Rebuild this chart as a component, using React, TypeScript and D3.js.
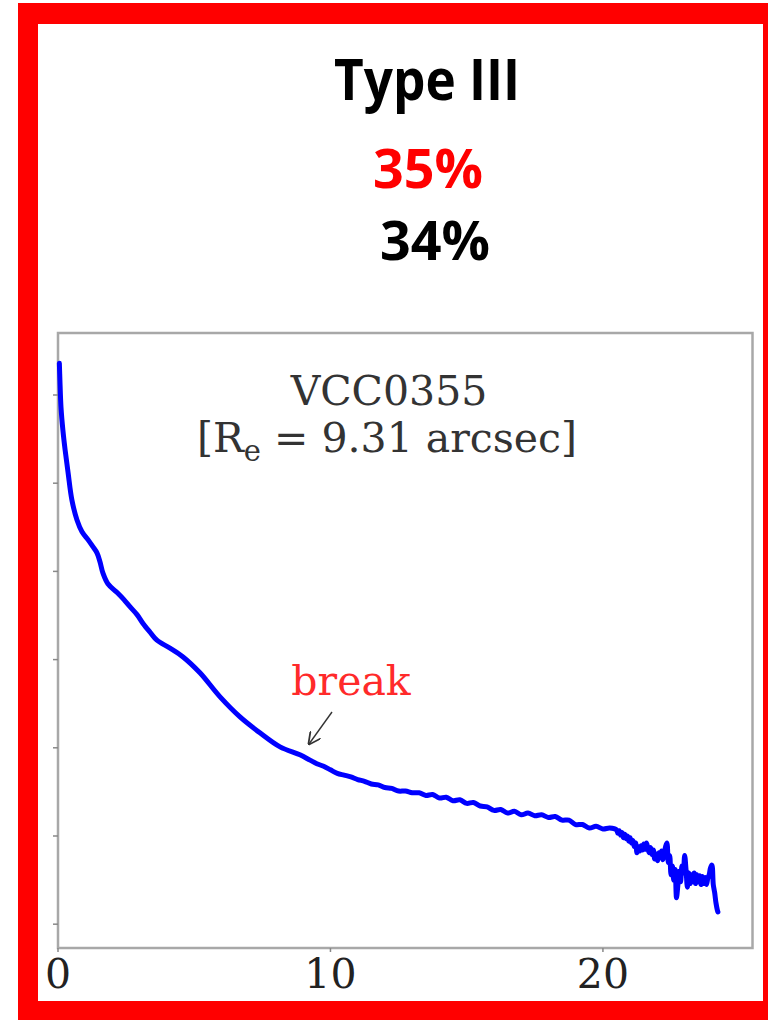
import React from "react";
import * as d3 from "d3";

// Surface-brightness profile of VCC0355 (radius in arcsec, mu in arbitrary mag units)
const radiusInner: number[] = [
  0.05, 0.07, 0.11, 0.18, 0.26, 0.37, 0.51, 0.70, 0.88, 1.10, 1.28, 1.43, 1.54, 1.65, 1.83,
  2.17, 2.42, 2.64, 2.90, 3.12, 3.38, 3.63, 4.11, 4.59, 5.21, 5.94, 6.68, 7.41, 8.15, 8.88,
  9.25, 9.50, 9.75, 10.00, 10.25, 10.50, 10.75, 11.00, 11.25, 11.50, 11.75, 12.00,
  12.25, 12.50, 12.75, 13.00, 13.25, 13.50, 13.75, 14.00, 14.25, 14.50, 14.75, 15.00, 15.25,
  15.50, 15.75, 16.00, 16.25, 16.50, 16.75, 17.00, 17.25, 17.50, 17.75, 18.00, 18.25, 18.50,
  18.75, 19.00, 19.25, 19.50, 19.75, 20.00, 20.25,
];
const muInner: number[] = [
  17.64, 17.83, 18.14, 18.40, 18.62, 18.88, 19.19, 19.42, 19.55, 19.64, 19.72, 19.79, 19.89, 20.02, 20.14,
  20.24, 20.32, 20.40, 20.49, 20.59, 20.69, 20.78, 20.87, 20.97, 21.15, 21.42, 21.65, 21.83, 21.99, 22.08,
  22.14, 22.18, 22.21, 22.25, 22.29, 22.31, 22.33, 22.36, 22.38, 22.41, 22.42, 22.45,
  22.46, 22.49, 22.49, 22.51, 22.51, 22.54, 22.53, 22.57, 22.56, 22.60, 22.59, 22.63, 22.62,
  22.66, 22.67, 22.71, 22.70, 22.74, 22.72, 22.76, 22.74, 22.77, 22.76, 22.79, 22.78, 22.82,
  22.82, 22.87, 22.87, 22.91, 22.89, 22.92, 22.91,
];
const radiusOuter: number[] = [
  20.50, 20.55, 20.60, 20.65, 20.70, 20.75, 20.80, 20.85, 20.90, 20.95,
  21.00, 21.05, 21.10, 21.15, 21.20, 21.25, 21.30, 21.35, 21.40, 21.45,
  21.50, 21.55, 21.60, 21.65, 21.70, 21.75, 21.80, 21.85, 21.90, 21.95,
  22.00, 22.05, 22.10, 22.15, 22.20, 22.25, 22.30, 22.35, 22.40, 22.45,
  22.50, 22.55, 22.60, 22.65, 22.70, 22.75, 22.80, 22.85, 22.90, 22.95,
  23.00, 23.05, 23.10, 23.15, 23.20, 23.25, 23.30, 23.35, 23.40, 23.45,
  23.50, 23.55, 23.60, 23.65, 23.70, 23.75, 23.80, 23.85, 23.90, 23.95,
  24.00, 24.05, 24.10, 24.15, 24.20, 24.22,
];
const muOuter: number[] = [
  22.93, 22.97, 22.94, 22.99, 22.96, 23.02, 22.98, 23.03, 23.00, 23.06,
  23.02, 23.08, 23.05, 23.12, 23.08, 23.19, 23.12, 23.17, 23.11, 23.16,
  23.09, 23.15, 23.08, 23.14, 23.19, 23.13, 23.21, 23.16, 23.26, 23.20,
  23.28, 23.19, 23.24, 23.17, 23.27, 23.20, 23.12, 23.08, 23.30, 23.22,
  23.44, 23.34, 23.50, 23.38, 23.70, 23.56, 23.40, 23.52, 23.34, 23.42,
  23.22, 23.38, 23.58, 23.42, 23.54, 23.44, 23.52, 23.42, 23.54, 23.44,
  23.52, 23.45, 23.55, 23.46, 23.54, 23.47, 23.55, 23.48, 23.44, 23.36,
  23.33, 23.55, 23.64, 23.76, 23.84, 23.86,
];
const xTicks: number[] = [0, 10, 20];
const yTicks: number[] = [18, 19, 20, 21, 22, 23, 24];

const W = 768;
const H = 1020;
const plot = { left: 58, right: 752.5, top: 333, bottom: 948 };

export default function App() {
  const x = d3.scaleLinear().domain([0, 25.49]).range([plot.left, plot.right]);
  const y = d3.scaleLinear().domain([17.297, 24.27]).range([plot.top, plot.bottom]);
  const radius = radiusInner.concat(radiusOuter);
  const mu = muInner.concat(muOuter);
  const pts: [number, number][] = radius.map((r, i) => [r, mu[i]]);
  const line = d3
    .line<[number, number]>()
    .x((d) => x(d[0]))
    .y((d) => y(d[1]))
    .curve(d3.curveCatmullRom.alpha(0.5));

  const serif = "'DejaVu Serif', serif";
  const sans = "'Open Sans', 'Liberation Sans', sans-serif";

  return (
    <svg
      width={W}
      height={H}
      viewBox={`0 0 ${W} ${H}`}
      style={{ position: "absolute", left: 0, top: 0, background: "#fff" }}
    >
      <defs>
        <marker id="arr" viewBox="0 0 10 10" refX="9" refY="5" markerWidth="9" markerHeight="9" orient="auto">
          <path d="M0,0 L10,5 L0,10" fill="none" stroke="#333" strokeWidth={1.4} />
        </marker>
      </defs>
      <rect x={0} y={0} width={W} height={H} fill="#fff" />
      {/* red frame */}
      <rect x={18} y={3} width={W - 18} height={21} fill="#ff0000" />
      <rect x={18} y={3} width={20} height={H - 3} fill="#ff0000" />
      <rect x={763} y={3} width={5} height={H - 3} fill="#ff0000" />
      <rect x={18} y={1001} width={W - 18} height={19} fill="#ff0000" />

      {/* headings */}
      <text x={427} y={100} textAnchor="middle" fontFamily={sans} fontWeight={700} fontSize={58}
        textLength={186} lengthAdjust="spacingAndGlyphs" fill="#000">Type III</text>
      <text x={428} y={188} textAnchor="middle" fontFamily={sans} fontWeight={700} fontSize={53}
        textLength={110} lengthAdjust="spacingAndGlyphs" fill="#ff0000">35%</text>
      <text x={435} y={260} textAnchor="middle" fontFamily={sans} fontWeight={700} fontSize={53}
        textLength={110} lengthAdjust="spacingAndGlyphs" fill="#000">34%</text>

      {/* plot frame */}
      <rect x={plot.left} y={plot.top} width={plot.right - plot.left} height={plot.bottom - plot.top}
        fill="#fff" stroke="#a8a8a8" strokeWidth={2.5} />
      {yTicks.map((t) => (
        <line key={"y" + t} x1={plot.left - 5} x2={plot.left} y1={y(t)} y2={y(t)} stroke="#888" strokeWidth={1.5} />
      ))}
      {xTicks.map((t) => (
        <g key={"x" + t}>
          <line x1={x(t)} x2={x(t)} y1={plot.bottom} y2={plot.bottom + 4} stroke="#888" strokeWidth={1.5} />
          <text x={x(t)} y={988} textAnchor="middle" fontFamily={serif} fontSize={41} fill="#222">{t}</text>
        </g>
      ))}

      {/* profile */}
      <path d={line(pts) || ""} fill="none" stroke="#0000ff" strokeWidth={5} strokeLinejoin="round" strokeLinecap="round" />

      {/* annotations */}
      <text x={389} y={405} textAnchor="middle" fontFamily={serif} fontSize={41} fill="#333">VCC0355</text>
      <text x={387} y={452} textAnchor="middle" fontFamily={serif} fontSize={41} fill="#333">
        [R<tspan fontSize={29} dy={9}>e</tspan><tspan dy={-9}> = 9.31 arcsec]</tspan>
      </text>
      <text x={351} y={695} textAnchor="middle" fontFamily={serif} fontSize={41} fill="#ff2a2a">break</text>
      <line x1={332} y1={712} x2={309} y2={744} stroke="#333" strokeWidth={1.4} markerEnd="url(#arr)" />
    </svg>
  );
}
